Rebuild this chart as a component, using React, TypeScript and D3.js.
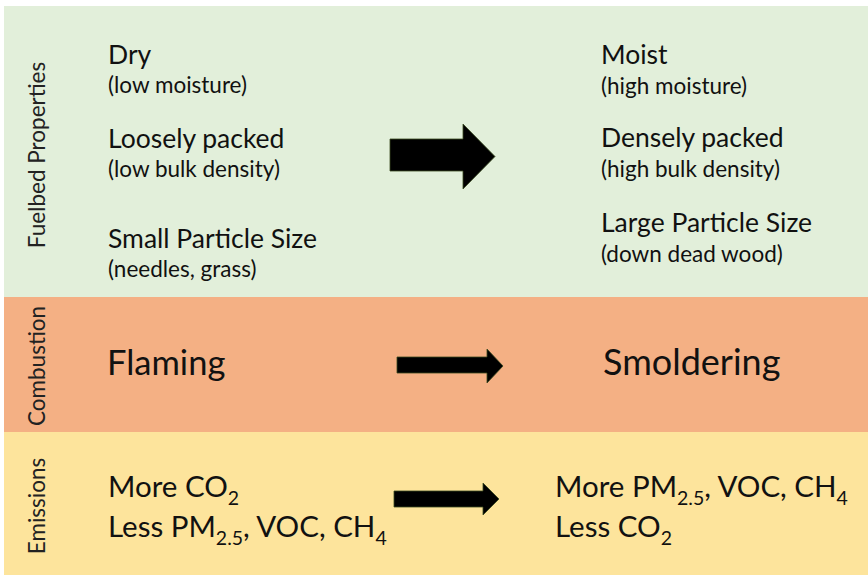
import React from "react";
import * as d3 from "d3";

const W = 868;
const H = 575;

// Section bands: name, top, bottom, fill
const sectionNames = ["Fuelbed Properties", "Combustion", "Emissions"];
const sectionTops = [6, 297, 432];
const sectionBottoms = [297, 432, 575];
const sectionFills = ["#e2efda", "#f4b084", "#fde49c"];

// Fuelbed properties text
const fuelLeftTitles = ["Dry", "Loosely packed", "Small Particle Size"];
const fuelLeftNotes = ["(low moisture)", "(low bulk density)", "(needles, grass)"];
const fuelRightTitles = ["Moist", "Densely packed", "Large Particle Size"];
const fuelRightNotes = ["(high moisture)", "(high bulk density)", "(down dead wood)"];
const fuelLeftBase = [64, 148, 248];
const fuelRightBase = [64, 147, 232];

const combustionLabels = ["Flaming", "Smoldering"];

type Seg = { t: string; sub?: boolean };
const emissionsLeft: Seg[][] = [
  [{ t: "More CO" }, { t: "2", sub: true }],
  [{ t: "Less PM" }, { t: "2.5", sub: true }, { t: ", VOC, CH" }, { t: "4", sub: true }],
];
const emissionsRight: Seg[][] = [
  [{ t: "More PM" }, { t: "2.5", sub: true }, { t: ", VOC, CH" }, { t: "4", sub: true }],
  [{ t: "Less CO" }, { t: "2", sub: true }],
];

// arrows: [shaftLeft, headBase, tip, shaftTop, shaftBottom, headTop, headBottom]
const arrows = [
  [390, 463, 495, 139, 171, 124, 189],
  [397, 487, 503, 357, 373, 349, 383],
  [394, 483, 499, 491, 507, 483, 515],
];

const FONT = "Lato, 'Open Sans', sans-serif";

function arrowPath(a: number[]) {
  const [x0, xb, xt, st, sb, ht, hb] = a;
  const p = d3.path();
  const cy = (ht + hb) / 2;
  p.moveTo(x0, st);
  p.lineTo(xb, st);
  p.lineTo(xb, ht);
  p.lineTo(xt, cy);
  p.lineTo(xb, hb);
  p.lineTo(xb, sb);
  p.lineTo(x0, sb);
  p.closePath();
  return p.toString();
}

function SegText({ segs, x, y, size }: { segs: Seg[]; x: number; y: number; size: number }) {
  const subSize = size * 0.66;
  const shift = size * 0.27;
  let prevSub = false;
  return (
    <text x={x} y={y} fontSize={size} fontFamily={FONT} fill="#111">
      {segs.map((s, i) => {
        let dy = 0;
        if (s.sub && !prevSub) dy = shift;
        else if (!s.sub && prevSub) dy = -shift;
        prevSub = !!s.sub;
        return (
          <tspan key={i} dy={dy} fontSize={s.sub ? subSize : size}>
            {s.t}
          </tspan>
        );
      })}
    </text>
  );
}

export default function App() {
  const labelCenters = [155, 366, 506];
  return (
    <svg width={W} height={H} style={{ position: "absolute", left: 0, top: 0 }}>
      <rect x={0} y={0} width={W} height={H} fill="#ffffff" />
      {sectionNames.map((n, i) => (
        <rect
          key={n}
          x={4}
          y={sectionTops[i]}
          width={W - 4}
          height={sectionBottoms[i] - sectionTops[i]}
          fill={sectionFills[i]}
        />
      ))}
      {sectionNames.map((n, i) => (
        <text
          key={"l" + n}
          transform={`translate(45,${labelCenters[i]}) rotate(-90)`}
          textAnchor="middle"
          fontSize={22.5}
          fontFamily={FONT}
          fill="#222"
        >
          {n}
        </text>
      ))}
      {fuelLeftTitles.map((t, i) => (
        <g key={"fl" + i}>
          <text x={108} y={fuelLeftBase[i]} fontSize={26.5} fontFamily={FONT} fill="#111">
            {t}
          </text>
          <text x={108} y={fuelLeftBase[i] + 29} fontSize={22.5} fontFamily={FONT} fill="#111">
            {fuelLeftNotes[i]}
          </text>
        </g>
      ))}
      {fuelRightTitles.map((t, i) => (
        <g key={"fr" + i}>
          <text x={601} y={fuelRightBase[i]} fontSize={26.5} fontFamily={FONT} fill="#111">
            {t}
          </text>
          <text x={601} y={fuelRightBase[i] + 30} fontSize={22.5} fontFamily={FONT} fill="#111">
            {fuelRightNotes[i]}
          </text>
        </g>
      ))}
      <text x={107} y={375} fontSize={34.5} fontFamily={FONT} fill="#111">
        {combustionLabels[0]}
      </text>
      <text x={603} y={375} fontSize={36} fontFamily={FONT} fill="#111">
        {combustionLabels[1]}
      </text>
      {emissionsLeft.map((segs, i) => (
        <SegText key={"el" + i} segs={segs} x={108} y={497 + i * 40} size={29.5} />
      ))}
      {emissionsRight.map((segs, i) => (
        <SegText key={"er" + i} segs={segs} x={555} y={497 + i * 40} size={29.5} />
      ))}
      {arrows.map((a, i) => (
        <path key={"a" + i} d={arrowPath(a)} fill="#000" stroke="#3a4a20" strokeWidth={0.8} />
      ))}
    </svg>
  );
}
